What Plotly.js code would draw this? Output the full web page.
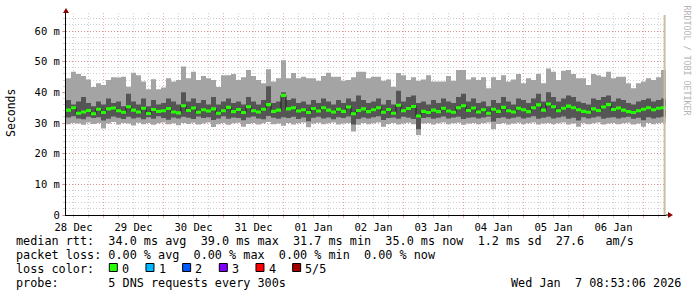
<!DOCTYPE html>
<html><head><meta charset="utf-8">
<script src="https://cdn.plot.ly/plotly-3.0.1.min.js"></script>
<style>html,body{margin:0;padding:0;background:#fff}#chart{width:697px;height:297px}</style>
</head><body><div id="chart"></div>
<script>
// ---- data (milliseconds), one value per 2-hour step, starting 2025-12-28 09:00 ----
const startUTC = Date.UTC(2025, 11, 28, 9, 0, 0);
const endUTC = Date.UTC(2026, 0, 7, 9, 0, 0);
const stepHours = 2;

// lowest ping (bottom of light smoke)
const ping1 = [29.6,30.0,29.8,29.4,30.2,29.7,30.0,28.2,29.8,30.3,29.5,30.0,
29.8,29.2,30.1,29.6,30.0,29.4,29.9,30.2,29.6,29.9,29.3,30.0,
29.7,30.1,29.5,29.8,30.2,28.7,29.6,30.0,29.4,29.9,30.1,28.8,
29.7,30.0,29.5,29.9,30.3,29.6,29.8,29.1,30.0,29.5,29.9,30.2,
28.6,29.8,30.1,29.6,29.9,30.2,29.5,29.8,30.0,27.2,29.4,30.0,
29.6,29.9,30.2,28.8,29.7,30.0,29.5,29.8,30.1,29.6,26.1,29.8,
30.0,29.5,29.9,30.2,29.6,29.9,30.1,29.4,29.8,30.0,29.6,29.9,
30.2,28.0,29.7,30.0,29.5,29.8,30.1,29.6,29.9,30.2,29.5,29.8,
30.0,29.6,29.9,30.2,29.5,29.8,28.8,30.0,29.6,29.9,30.2,29.5,
29.8,30.0,29.6,29.9,30.1,29.5,29.8,28.8,30.0,29.6,29.9,30.1];
// second ping (bottom of dark smoke)
const ping2 = [31.8,32.2,31.5,31.2,32.0,31.6,31.9,30.8,31.4,32.1,31.7,31.3,
32.0,31.5,31.8,31.2,31.9,31.4,32.2,31.6,31.1,31.8,31.5,32.0,
31.7,31.3,32.1,31.6,31.9,31.0,31.5,32.2,31.4,31.8,31.6,30.9,
31.8,32.1,31.5,31.2,32.3,31.7,31.4,31.9,31.6,32.0,31.3,31.8,
30.6,31.7,32.0,31.5,31.8,31.2,31.9,31.6,32.1,29.5,31.3,31.8,
31.5,31.9,32.2,31.0,31.6,31.8,31.4,32.0,31.7,31.3,28.0,31.6,
31.9,31.4,31.7,32.1,31.5,31.8,32.0,31.3,31.7,31.9,31.5,31.8,
32.1,30.5,31.6,31.9,31.4,31.7,32.0,31.5,31.8,32.2,31.4,31.7,
32.0,31.5,31.8,32.1,31.4,31.7,30.8,31.9,31.5,31.8,32.1,31.4,
31.7,31.9,31.5,31.8,32.0,31.4,31.7,30.9,31.9,31.5,31.8,32.0];
// median ping
const median = [34.2,35.0,33.2,33.6,34.1,33.0,34.5,33.4,34.6,34.9,34.0,33.5,
35.3,34.2,33.6,34.8,33.1,34.4,33.8,34.0,34.7,33.6,33.3,35.6,
34.1,34.9,33.5,34.3,33.9,34.6,33.2,34.0,35.1,33.7,34.4,33.4,
35.3,34.0,33.6,34.5,36.0,33.8,34.2,39.0,34.6,35.0,33.9,34.3,
33.4,34.7,33.9,35.0,34.2,33.6,34.5,33.8,35.2,33.0,34.1,34.6,
33.7,34.3,35.0,33.5,34.4,33.2,35.8,34.0,34.7,35.4,32.3,33.8,
33.4,34.2,33.7,34.8,33.9,33.5,35.0,35.6,34.1,34.9,33.6,34.3,
33.2,34.5,33.8,35.1,34.0,33.6,34.8,34.3,33.7,35.0,35.9,34.2,
36.2,35.3,34.0,34.8,35.5,35.0,34.3,33.8,33.5,34.6,34.1,35.2,
36.0,34.4,34.9,34.2,33.7,33.4,34.0,34.5,35.0,34.3,34.8,35.0];
// fourth ping (top of dark smoke)
const ping4 = [37.5,36.0,37.0,38.5,36.5,35.5,37.0,36.0,38.0,36.5,37.0,35.5,
39.5,37.0,36.0,38.0,35.5,37.5,36.0,36.5,38.0,37.0,36.0,40.0,
37.0,38.0,36.5,37.5,36.0,38.5,36.0,37.0,38.0,36.5,37.0,36.0,
38.5,37.0,36.0,37.5,42.0,36.5,37.0,40.0,37.5,38.0,36.5,37.0,
36.0,37.5,36.5,38.0,37.0,36.0,37.5,36.5,38.0,37.0,39.0,37.5,
36.5,37.0,38.0,36.0,37.5,36.0,40.5,37.0,38.5,39.0,36.5,37.0,
36.0,37.5,36.5,38.0,37.0,36.5,38.5,39.5,37.0,38.0,36.5,37.0,
35.5,37.5,36.5,38.5,37.0,36.0,38.0,37.5,36.5,38.0,39.5,37.0,
40.0,38.5,37.0,38.0,39.0,38.5,37.0,36.5,36.0,38.0,37.5,38.5,
39.0,37.0,38.0,37.5,36.5,36.0,37.0,37.5,38.0,37.0,37.5,38.0];
// highest ping (top of light smoke)
const ping5 = [44.6,46.7,46.0,45.3,44.2,41.7,43.0,42.4,44.0,44.9,44.8,45.1,
41.8,46.4,45.6,43.5,41.0,44.3,41.0,41.6,44.6,43.5,44.0,48.4,
44.6,46.7,44.0,45.3,44.6,44.0,41.7,45.6,45.6,46.0,44.0,44.9,
47.3,45.3,44.0,43.0,47.5,43.5,44.6,50.5,44.6,46.3,44.6,45.1,
44.6,44.6,43.8,45.3,46.4,45.1,45.1,43.8,44.0,44.9,46.7,46.7,
44.6,45.1,45.1,43.8,44.2,41.8,46.3,45.6,44.0,44.9,43.8,44.2,
45.6,43.5,43.5,43.5,45.3,43.8,47.3,47.3,44.2,44.9,44.0,44.9,
41.3,44.9,44.0,45.6,43.5,44.2,46.0,43.0,44.6,44.0,46.0,43.0,
47.8,46.7,44.0,47.0,47.3,46.0,44.6,44.6,42.4,46.0,45.6,45.1,
46.7,44.6,45.1,45.1,43.0,41.3,43.0,43.5,44.6,44.0,44.9,47.3];
// packet loss per step (count of lost pings out of 5)
const loss = new Array(ping5.length).fill(0);

const yTickVals = [0, 10, 20, 30, 40, 50, 60];
const yTickText = ['0', '10 m', '20 m', '30 m', '40 m', '50 m', '60 m'];
const lossLabels = ['0', '1', '2', '3', '4', '5/5'];
const lossColors = ['#26ff00', '#00b8ff', '#0059ff', '#7e00ff', '#ff0000', '#a10000'];
const statsLine1 = 'median rtt:  34.0 ms avg  39.0 ms max  31.7 ms min  35.0 ms now  1.2 ms sd  27.6   am/s';
const statsLine2 = 'packet loss: 0.00 % avg  0.00 % max  0.00 % min  0.00 % now';
const lossLine = 'loss color:';
const probeLine = 'probe:       5 DNS requests every 300s';
const dateLine = 'Wed Jan  7 08:53:06 2026';
const vendorText = 'RRDTOOL / TOBI OETIKER';
const yTitle = 'Seconds';

// ---- build ----
const fmt = ms => new Date(ms).toISOString().replace('T', ' ').slice(0, 19);
const stepMs = stepHours * 3600000;
const n = ping5.length;
const tEdges = [];
for (let i = 0; i <= n; i++) tEdges.push(fmt(startUTC + i * stepMs));
const ext = a => a.concat([a[a.length - 1]]);

const LIGHT = '#a4a4a4', DARK = '#555555';
const band = (lo, hi, color) => [
  {x: tEdges, y: ext(lo), type: 'scatter', mode: 'lines', line: {width: 0, shape: 'hv'}, hoverinfo: 'skip'},
  {x: tEdges, y: ext(hi), type: 'scatter', mode: 'lines', line: {width: 0, shape: 'hv'}, fill: 'tonexty', fillcolor: color, hoverinfo: 'skip'}
];
const traces = [].concat(band(ping1, ping5, LIGHT), band(ping2, ping4, DARK));
traces.push({x: tEdges, y: ext(median), type: 'scatter', mode: 'lines', line: {width: 1, shape: 'hv', color: '#202020'}, hoverinfo: 'skip'});
// loss-coloured median markers (rectangle of +-sw around the median)
const sw = 0.5;
lossColors.forEach((c, lvl) => {
  if (!loss.some(l => l === lvl)) return;
  const lo = median.map((v, i) => loss[i] === lvl ? v - sw : null);
  const hi = median.map((v, i) => loss[i] === lvl ? v + sw : null);
  traces.push.apply(traces, band(lo, hi, c));
});

const W = 697, H = 297, L = 66, R = 666, T = 13, B = 215;
const px = x => (x - L) / (R - L);
const py = y => (B - y) / (B - T);
const yTop = (B - T) / (184 / 60);

const mono = 'DejaVu Sans Mono';
const txtFont = {family: mono, size: 11.8, color: '#000'};
const nb = s => s.replace(/ /g, '\u00a0');
const ann = [];
const addText = (s, x, y, extra) => ann.push(Object.assign({
  text: nb(s), xref: 'paper', yref: 'paper', x: px(x), y: py(y), xanchor: 'left', yanchor: 'middle',
  showarrow: false, font: txtFont, borderpad: 0, borderwidth: 0
}, extra || {}));
addText(statsLine1, 16, 241);
addText(statsLine2, 16, 255);
addText(lossLine, 16, 269);
addText(probeLine, 16, 283);
addText(dateLine, 681, 283, {xanchor: 'right'});
ann.push({text: yTitle, xref: 'paper', yref: 'paper', x: px(11), y: py(113), textangle: -90,
  xanchor: 'center', yanchor: 'middle',
  showarrow: false, font: {family: mono, size: 11.5, color: '#000'}, borderpad: 0});
ann.push({text: nb(vendorText), xref: 'paper', yref: 'paper', x: px(686.5), y: py(60), textangle: 90,
  xanchor: 'center', yanchor: 'middle',
  showarrow: false, font: {family: mono, size: 8.3, color: '#b4b4b4'}, borderpad: 0});

const shapes = [];
const boxX0 = 109.3, boxStep = 36.67;
lossLabels.forEach((lab, i) => {
  const bx = boxX0 + i * boxStep;
  shapes.push({type: 'rect', xref: 'paper', yref: 'paper', x0: px(bx), x1: px(bx + 8), y0: py(271.5), y1: py(263.5),
    fillcolor: lossColors[i], line: {color: '#000', width: 1}});
  addText(lab, bx + 12.6, 269);
});
// end-of-data rule
shapes.push({type: 'line', xref: 'paper', yref: 'paper', x0: px(664.6), x1: px(664.6), y0: py(215), y1: py(15),
  line: {color: '#c4c0a0', width: 2}});
// axis extension and arrows
shapes.push({type: 'line', xref: 'paper', yref: 'paper', x0: px(666), x1: px(669), y0: 0, y1: 0, line: {color: '#000', width: 1}});
const pathTri = pts => 'M' + pts.map(p => px(p[0]) + ',' + py(p[1])).join(' L') + ' Z';
shapes.push({type: 'path', xref: 'paper', yref: 'paper', path: pathTri([[668, 212], [668, 218], [673, 215]]),
  fillcolor: '#8b0000', line: {width: 0}});
shapes.push({type: 'path', xref: 'paper', yref: 'paper', path: pathTri([[63, 13], [69, 13], [66, 8]]),
  fillcolor: '#8b0000', line: {width: 0}});

const MAJ = 'rgba(225,80,80,0.5)', MIN = 'rgba(150,150,150,0.45)';
const layout = {
  width: W, height: H, margin: {l: L, r: W - R, t: T, b: H - B, pad: 0},
  paper_bgcolor: '#fff', plot_bgcolor: '#fff', showlegend: false,
  xaxis: {
    type: 'date', range: [fmt(startUTC), fmt(endUTC)], tick0: '2025-12-29', dtick: 86400000,
    tickformat: '%d %b', ticklabelmode: 'period', showgrid: true, gridcolor: MAJ, griddash: '1px,2px', gridwidth: 1,
    ticks: 'outside', ticklen: 2, tickcolor: MAJ, showline: true, linecolor: '#000', linewidth: 1, zeroline: false,
    tickfont: {family: mono, size: 10.5, color: '#000'}, fixedrange: true,
    minor: {tick0: '2025-12-29', dtick: 21600000, showgrid: true, gridcolor: MIN, griddash: '1px,2px', gridwidth: 1,
      ticks: 'outside', ticklen: 2, tickcolor: MIN}
  },
  yaxis: {
    range: [0, yTop], tickmode: 'array', tickvals: yTickVals, ticktext: yTickText,
    showgrid: true, gridcolor: MAJ, griddash: '1px,2px', gridwidth: 1, zeroline: false,
    ticks: 'outside', ticklen: 3, tickcolor: MAJ, showline: true, linecolor: '#000', linewidth: 1,
    tickfont: {family: mono, size: 10.5, color: '#000'}, fixedrange: true,
    minor: {tick0: 0, dtick: 2, showgrid: true, gridcolor: MIN, griddash: '1px,2px', gridwidth: 1,
      ticks: 'outside', ticklen: 2, tickcolor: MIN}
  },
  annotations: ann, shapes: shapes
};
Plotly.newPlot('chart', traces, layout, {staticPlot: true, displayModeBar: false});
</script></body></html>
